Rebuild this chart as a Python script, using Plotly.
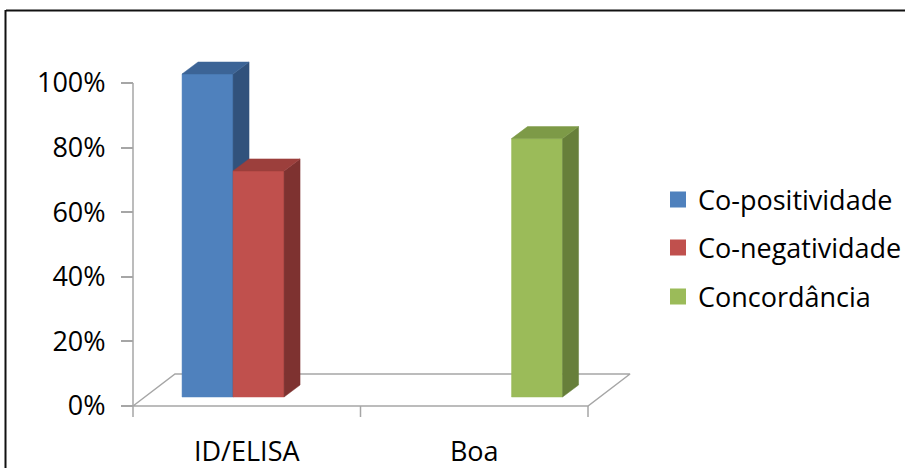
import plotly.graph_objects as go

# ---------------- data ----------------
categories = ["ID/ELISA", "Boa"]
series_names = ["Co-positividade", "Co-negatividade", "Concordância"]
co_positividade = [100, None]
co_negatividade = [70, None]
concordancia = [None, 80]
y_tick_values = [0, 20, 40, 60, 80, 100]
y_tick_labels = ["0%", "20%", "40%", "60%", "80%", "100%"]

series_values = [co_positividade, co_negatividade, concordancia]
front_colors = ["#4F81BD", "#C0504D", "#9BBB59"]
top_colors = ["#3C6496", "#9C3F3C", "#7D9A47"]
side_colors = ["#31527C", "#7E3230", "#677F3A"]

# ---------------- geometry (pixel based mapping) ----------------
W, H = 905, 468
L, R, T, B = 120, 905, 40, 425
X0PX, XSCALE = 133, 227.5   # pixel of x=0, pixels per category unit
Y0PX, YSCALE = 406, 3.23    # pixel of y=0, pixels per percent

xr = [(L - X0PX) / XSCALE, (R - X0PX) / XSCALE]
yr = [(Y0PX - B) / YSCALE, (Y0PX - T) / YSCALE]


def ddx(px):
    return px / XSCALE


def ddy(px):
    return px / YSCALE


def xp(px):
    return (px - L) / (R - L)


def yp(py):
    return (B - py) / (B - T)


floor_dx, floor_dy = ddx(42), ddy(32)
bar_off_dx, bar_off_dy = ddx(11.8), ddy(9)
depth_dx, depth_dy = ddx(16), ddy(12)
slot = ddx(51)
gap_side = (1 - 3 * slot) / 2
n_cat = len(categories)

fig = go.Figure()

# floor
fig.add_trace(go.Scatter(
    x=[0, n_cat, n_cat + floor_dx, floor_dx, 0],
    y=[0, 0, floor_dy, floor_dy, 0],
    mode="lines", line=dict(color="#A6A6A6", width=1.5),
    hoverinfo="skip", showlegend=False))

# category tick marks
tx, ty = [], []
for i in range(n_cat + 1):
    tx += [i, i, None]
    ty += [0, -ddy(11), None]
fig.add_trace(go.Scatter(x=tx, y=ty, mode="lines",
                         line=dict(color="#A6A6A6", width=1.5),
                         hoverinfo="skip", showlegend=False))

# value axis line
fig.add_trace(go.Scatter(x=[0, 0], y=[0, 100], mode="lines",
                         line=dict(color="#A6A6A6", width=1.5),
                         hoverinfo="skip", showlegend=False))

# 3D bars
for k, vals in enumerate(series_values):
    fx, fy, sx, sy, qx, qy = [], [], [], [], [], []
    for i, v in enumerate(vals):
        if v is None:
            continue
        xl = i + gap_side + k * slot + bar_off_dx
        xrr = xl + slot
        b = bar_off_dy
        t = bar_off_dy + v
        fx += [xl, xrr, xrr, xl, xl, None]
        fy += [b, b, t, t, b, None]
        sx += [xrr, xrr + depth_dx, xrr + depth_dx, xrr, xrr, None]
        sy += [b, b + depth_dy, t + depth_dy, t, b, None]
        qx += [xl, xrr, xrr + depth_dx, xl + depth_dx, xl, None]
        qy += [t, t, t + depth_dy, t + depth_dy, t, None]
    for px_, py_, col in [(fx, fy, front_colors[k]), (sx, sy, side_colors[k]),
                          (qx, qy, top_colors[k])]:
        fig.add_trace(go.Scatter(
            x=px_, y=py_, mode="lines", fill="toself", fillcolor=col,
            line=dict(color=col, width=0.5), hoverinfo="skip",
            showlegend=False))

# legend entries
legend_ids = ["legend", "legend2", "legend3"]
for k, name in enumerate(series_names):
    fig.add_trace(go.Scatter(
        x=[None], y=[None], mode="markers", name=name,
        marker=dict(symbol="square", size=16, color=front_colors[k]),
        legend=legend_ids[k]))

FONT = "Open Sans"
FS = 27
legend_centers = [200, 248, 297]
leg_common = dict(font=dict(family=FONT, size=FS, color="#000000"),
                  bgcolor="rgba(0,0,0,0)", xanchor="left", yanchor="middle",
                  itemsizing="trace")

fig.update_layout(
    width=W, height=H,
    margin=dict(l=L, r=W - R, t=T, b=H - B, pad=0, autoexpand=False),
    paper_bgcolor="white", plot_bgcolor="white",
    font=dict(family=FONT, size=FS, color="#000000"),
    xaxis=dict(range=xr, tickvals=[0.5 + i for i in range(n_cat)],
               ticktext=categories, ticks="", showgrid=False,
               zeroline=False, showline=False, ticklabelstandoff=8,
               automargin=False,
               tickfont=dict(family=FONT, size=FS, color="#000000")),
    yaxis=dict(range=yr, tickvals=y_tick_values, ticktext=y_tick_labels,
               ticks="outside", ticklen=12, tickwidth=1.5,
               tickcolor="#A6A6A6", showgrid=False, zeroline=False,
               showline=False, anchor="free", position=xp(X0PX),
               ticklabelstandoff=10, automargin=False,
               tickfont=dict(family=FONT, size=FS, color="#000000")),
    legend=dict(x=xp(658), y=yp(legend_centers[0]), **leg_common),
    legend2=dict(x=xp(658), y=yp(legend_centers[1]), **leg_common),
    legend3=dict(x=xp(658), y=yp(legend_centers[2]), **leg_common),
    shapes=[
        dict(type="line", xref="paper", yref="paper",
             x0=xp(6), y0=yp(10.5), x1=xp(915), y1=yp(10.5),
             line=dict(color="#111111", width=2)),
        dict(type="line", xref="paper", yref="paper",
             x0=xp(5.5), y0=yp(10), x1=xp(5.5), y1=yp(480),
             line=dict(color="#111111", width=2)),
    ],
)

fig.write_html("out.html")
